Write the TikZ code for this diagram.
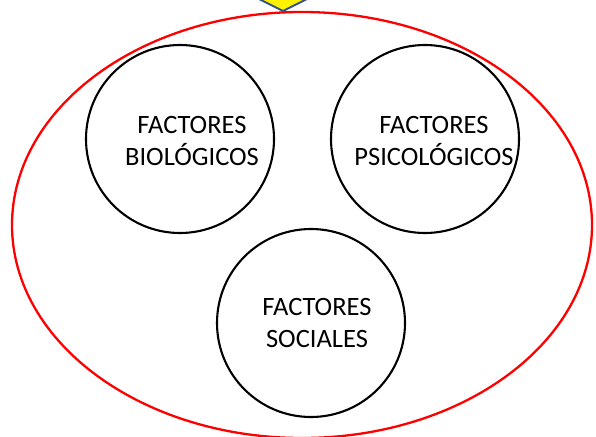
\documentclass[tikz,border=0pt]{standalone}
\usepackage{fontspec}
\setmainfont{Carlito}
\usetikzlibrary{shapes.geometric}
\definecolor{shapeblue}{HTML}{2F528F}
\begin{document}
\begin{tikzpicture}[x=1pt,y=-1pt,
  factor/.style={circle,draw=black,line width=2.1pt,minimum size=188pt,inner sep=0pt},
  factortext/.style={align=center,inner sep=0pt,font=\fontsize{26.5}{32}\selectfont}]
\useasboundingbox (0,0) rectangle (596,436);
\clip (0,0) rectangle (596,436);
\fill[white] (0,0) rectangle (596,436);
\node[ellipse,draw=red,line width=2.3pt,minimum width=580pt,minimum height=426pt,inner sep=0pt] (outer) at (302,225) {};
\path[draw=shapeblue,fill=yellow,line width=2pt] (241,-10) -- (283,11) -- (325,-10) -- (283,-31) -- cycle;
\node[factor] (bio) at (180,139) {};
\node[factor] (psi) at (425,139) {};
\node[factor] (soc) at (311,323) {};
\node[factortext] (biot) at (192,141) {FACTORES\\BIOLÓGICOS};
\node[factortext] (psit) at (434,141) {FACTORES\\PSICOLÓGICOS};
\node[factortext] (soct) at (317,323) {FACTORES\\SOCIALES};
\end{tikzpicture}
\end{document}
